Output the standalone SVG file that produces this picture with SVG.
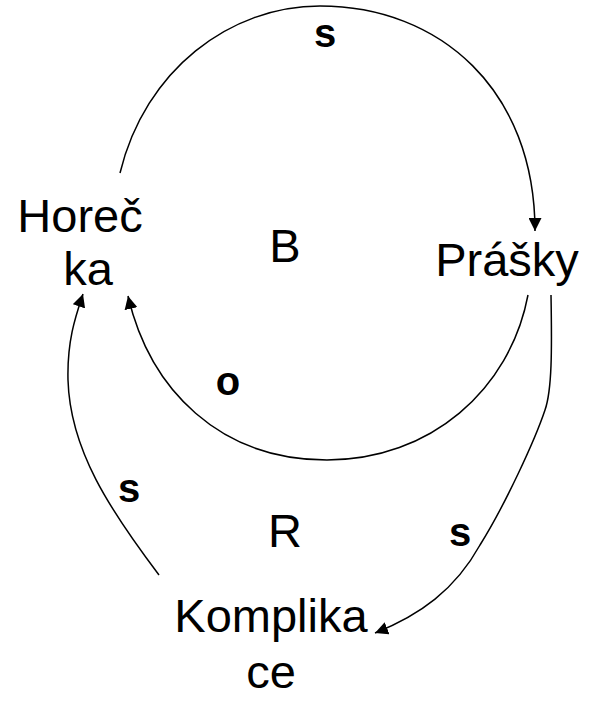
<svg xmlns="http://www.w3.org/2000/svg" width="591" height="702" viewBox="0 0 591 702">
<style>
.t{font-family:"Liberation Sans",Arial,sans-serif;font-size:47px;fill:#000}
.l{font-family:"Liberation Sans",Arial,sans-serif;font-size:40px;font-weight:bold;fill:#000}
.c{fill:none;stroke:#000;stroke-width:1.5}
</style>
<defs>
<marker id="a" viewBox="0 0 10 10" refX="10" refY="5" markerWidth="13" markerHeight="13" markerUnits="userSpaceOnUse" orient="auto">
<path d="M0,0 L10,5 L0,10 z" fill="#000"/>
</marker>
</defs>
<rect width="591" height="702" fill="#fff"/>
<g id="connectors">
<path class="c" marker-end="url(#a)" d="M120,173 C145,70 230,6 320,6 C440,6 535,90 535,231"/>
<path class="c" marker-end="url(#a)" d="M528,295 C510,390 430,460 327,460 C220,460 150,390 128,296"/>
<path class="c" marker-end="url(#a)" d="M159,575 C110,510 70,450 68,380 C67,340 76,315 83,294"/>
<path class="c" marker-end="url(#a)" d="M551,295 C552,350 552,390 545,410 C535,440 505,505 480,545 C455,590 420,615 375,633"/>
</g>
<g id="horecka"><text class="t" x="80" y="232" text-anchor="middle">Horeč</text><text class="t" x="88" y="285" text-anchor="middle">ka</text></g>
<g id="prasky"><text class="t" x="507" y="276" text-anchor="middle">Prášky</text></g>
<g id="komplikace"><text class="t" x="271" y="632" text-anchor="middle">Komplika</text><text class="t" x="271" y="688" text-anchor="middle">ce</text></g>
<g id="loopB"><text class="t" x="285" y="262" text-anchor="middle">B</text></g>
<g id="loopR"><text class="t" x="285" y="547" text-anchor="middle">R</text></g>
<g id="labels">
<text class="l" x="325" y="47" text-anchor="middle">s</text>
<text class="l" x="228" y="395" text-anchor="middle">o</text>
<text class="l" x="129" y="502" text-anchor="middle">s</text>
<text class="l" x="460" y="546" text-anchor="middle">s</text>
</g>
</svg>
